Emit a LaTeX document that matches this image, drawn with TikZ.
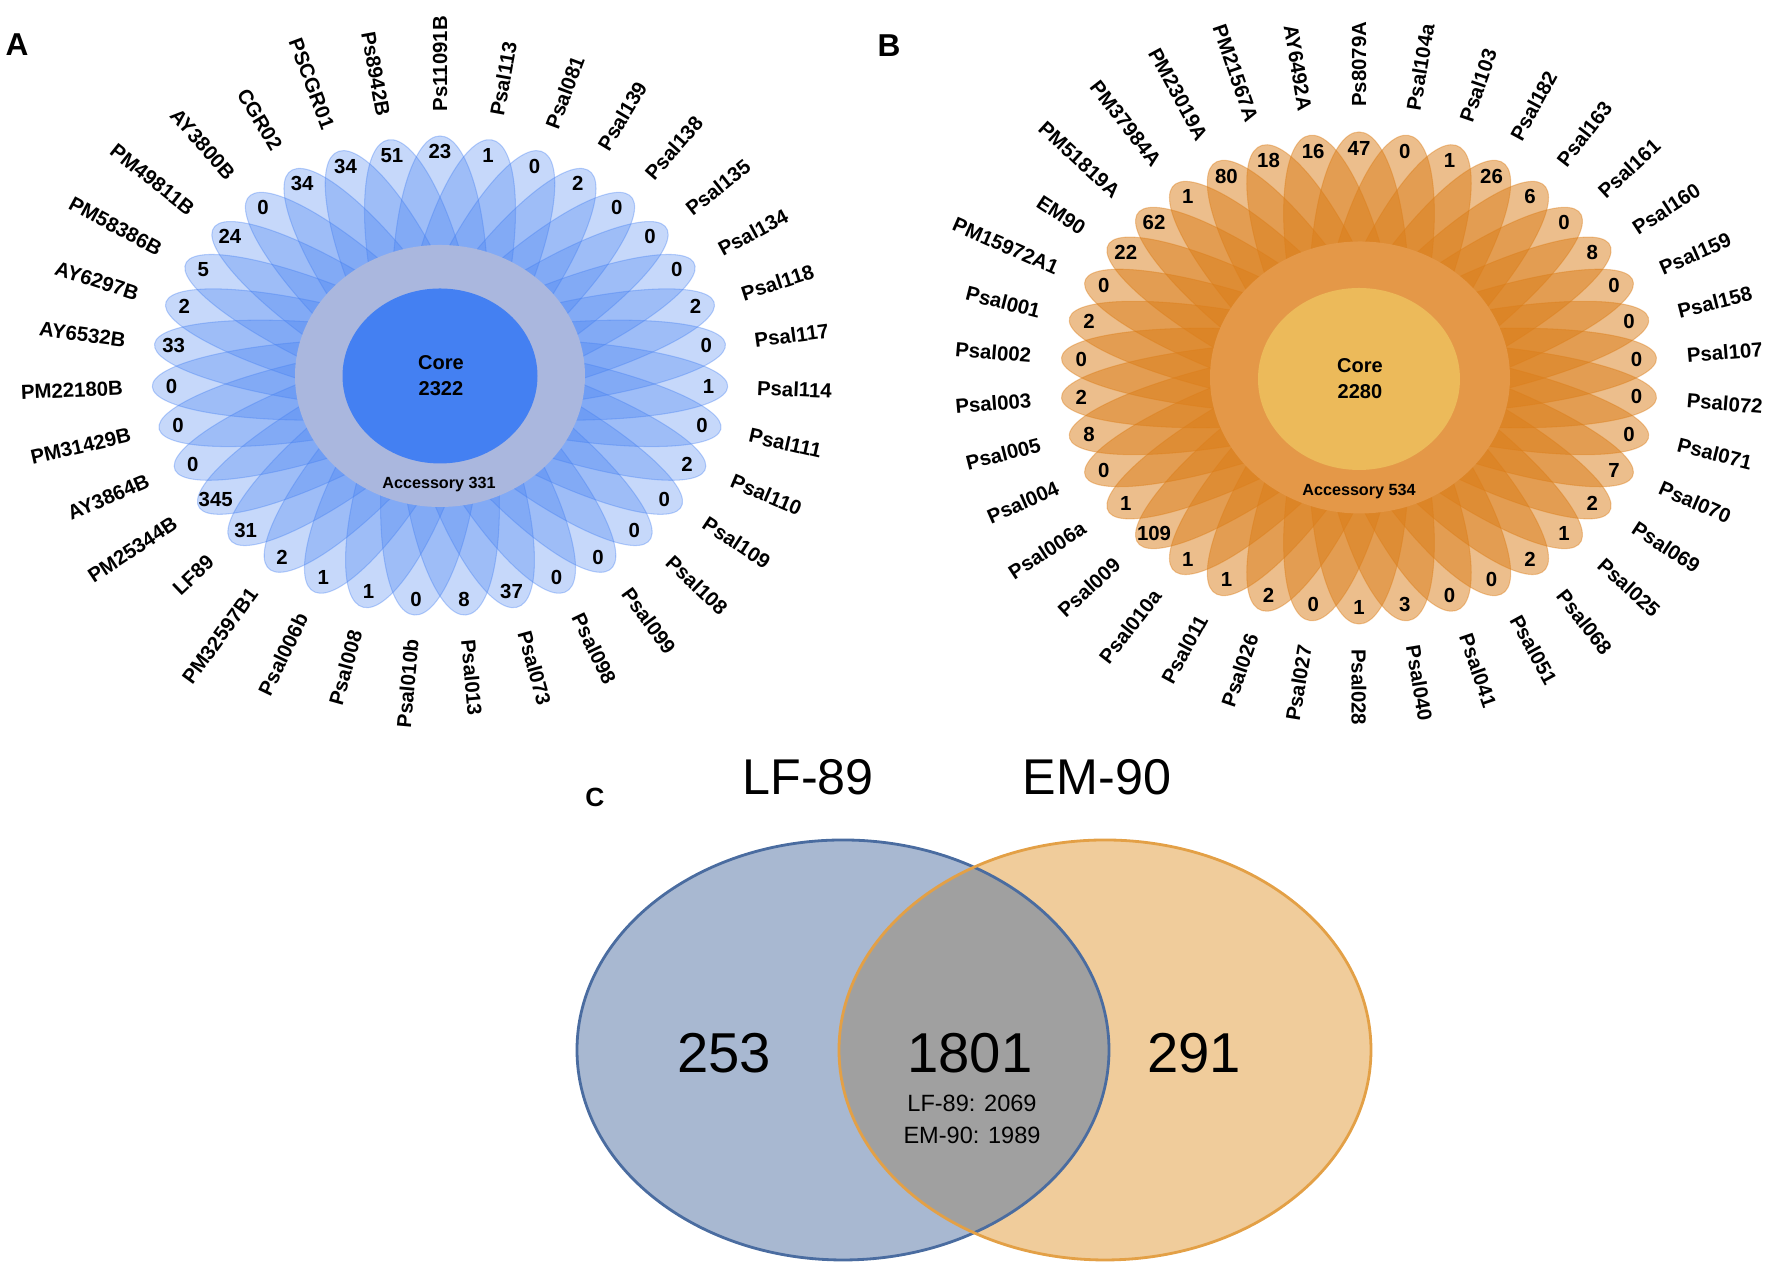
\documentclass[tikz,border=0pt]{standalone}
\usepackage{fontspec}
\setmainfont{Liberation Sans}

\definecolor{petalblue}{RGB}{66,126,240}
\definecolor{ringblue}{RGB}{170,183,222}
\definecolor{coreblue}{RGB}{68,128,242}
\definecolor{petalorange}{RGB}{218,125,25}
\definecolor{ringorange}{RGB}{228,152,72}
\definecolor{coreorange}{RGB}{236,186,90}
\definecolor{lfblue}{RGB}{168,184,209}
\definecolor{lfedge}{RGB}{74,108,160}
\definecolor{emorange}{RGB}{240,204,155}
\definecolor{emedge}{RGB}{227,160,70}
\definecolor{sharedgray}{RGB}{160,160,160}

\tikzset{
	petalA/.style={fill=petalblue, fill opacity=0.3, draw=petalblue, draw opacity=0.35, line width=0.3pt},
	petalB/.style={fill=petalorange, fill opacity=0.5, draw=petalorange, draw opacity=0.4, line width=0.3pt},
	petalnum/.style={font=\fontsize{5.8}{7}\selectfont\bfseries, inner sep=0pt},
	outlbl/.style={font=\fontsize{5.8}{7}\selectfont\bfseries, inner sep=0pt, anchor=west},
	inlbl/.style={font=\fontsize{5.8}{7}\selectfont\bfseries, inner sep=0pt, anchor=east},
	coretxt/.style={font=\fontsize{5.7}{7.4}\selectfont\bfseries, align=center, inner sep=0pt},
	acctxt/.style={font=\fontsize{4.6}{5}\selectfont\bfseries, inner sep=0pt},
	panel/.style={font=\fontsize{9}{10}\selectfont\bfseries, inner sep=0pt},
	venntitle/.style={font=\fontsize{14.3}{16}\selectfont, inner sep=0pt},
	vennbig/.style={font=\fontsize{16}{18}\selectfont, inner sep=0pt},
	vennsmall/.style={font=\fontsize{6.7}{8}\selectfont, inner sep=0pt}
}

\begin{document}
\begin{tikzpicture}[x=0.1mm, y=0.1mm]
	\useasboundingbox (0,0) rectangle (1775,1287);

	\node[panel] (panA) at (17,1242) {A};
	\node[panel] (panB) at (889,1241) {B};
	\node[panel, font=\fontsize{7.5}{9}\selectfont\bfseries] (panC) at (595,490) {C};

	\begin{scope}[shift={(440,911)}, xscale=96, yscale=80]
		\foreach \k in {0,...,34}{
			\pgfmathsetmacro{\ang}{90-\k*360/35}
			\filldraw[petalA, shift={(\ang:1)}, rotate=\ang] (0,0) ellipse (2 and 0.5);
		}
		\node[petalnum] (nA0) at (90:2.8) {23};		\node[outlbl, rotate=90] (lA0) at (90:3.3) {Ps11091B};
		\node[petalnum] (nA1) at (79.71:2.8) {1};		\node[outlbl, rotate=79.71] (lA1) at (79.71:3.3) {Psal113};
		\node[petalnum] (nA2) at (69.43:2.8) {0};		\node[outlbl, rotate=69.43] (lA2) at (69.43:3.3) {Psal081};
		\node[petalnum] (nA3) at (59.14:2.8) {2};		\node[outlbl, rotate=59.14] (lA3) at (59.14:3.3) {Psal139};
		\node[petalnum] (nA4) at (48.86:2.8) {0};		\node[outlbl, rotate=48.86] (lA4) at (48.86:3.3) {Psal138};
		\node[petalnum] (nA5) at (38.57:2.8) {0};		\node[outlbl, rotate=38.57] (lA5) at (38.57:3.3) {Psal135};
		\node[petalnum] (nA6) at (28.29:2.8) {0};		\node[outlbl, rotate=28.29] (lA6) at (28.29:3.3) {Psal134};
		\node[petalnum] (nA7) at (18:2.8) {2};		\node[outlbl, rotate=18] (lA7) at (18:3.3) {Psal118};
		\node[petalnum] (nA8) at (7.71:2.8) {0};		\node[outlbl, rotate=7.71] (lA8) at (7.71:3.3) {Psal117};
		\node[petalnum] (nA9) at (-2.57:2.8) {1};		\node[outlbl, rotate=-2.57] (lA9) at (-2.57:3.3) {Psal114};
		\node[petalnum] (nA10) at (-12.86:2.8) {0};	\node[outlbl, rotate=-12.86] (lA10) at (-12.86:3.3) {Psal111};
		\node[petalnum] (nA11) at (-23.14:2.8) {2};	\node[outlbl, rotate=-23.14] (lA11) at (-23.14:3.3) {Psal110};
		\node[petalnum] (nA12) at (-33.43:2.8) {0};	\node[outlbl, rotate=-33.43] (lA12) at (-33.43:3.3) {Psal109};
		\node[petalnum] (nA13) at (-43.71:2.8) {0};	\node[outlbl, rotate=-43.71] (lA13) at (-43.71:3.3) {Psal108};
		\node[petalnum] (nA14) at (-54:2.8) {0};		\node[outlbl, rotate=-54] (lA14) at (-54:3.3) {Psal099};
		\node[petalnum] (nA15) at (-64.29:2.8) {0};	\node[outlbl, rotate=-64.29] (lA15) at (-64.29:3.3) {Psal098};
		\node[petalnum] (nA16) at (-74.57:2.8) {37};	\node[outlbl, rotate=-74.57] (lA16) at (-74.57:3.3) {Psal073};
		\node[petalnum] (nA17) at (-84.86:2.8) {8};	\node[outlbl, rotate=-84.86] (lA17) at (-84.86:3.3) {Psal013};
		\node[petalnum] (nA18) at (-95.14:2.8) {0};	\node[inlbl, rotate=84.86] (lA18) at (-95.14:3.3) {Psal010b};
		\node[petalnum] (nA19) at (-105.43:2.8) {1};	\node[inlbl, rotate=74.57] (lA19) at (-105.43:3.3) {Psal008};
		\node[petalnum] (nA20) at (-115.71:2.8) {1};	\node[inlbl, rotate=64.29] (lA20) at (-115.71:3.3) {Psal006b};
		\node[petalnum] (nA21) at (-126:2.8) {2};		\node[inlbl, rotate=54] (lA21) at (-126:3.3) {PM32597B1};
		\node[petalnum] (nA22) at (-136.29:2.8) {31};	\node[inlbl, rotate=43.71] (lA22) at (-136.29:3.3) {LF89};
		\node[petalnum] (nA23) at (-146.57:2.8) {345};	\node[inlbl, rotate=33.43] (lA23) at (-146.57:3.3) {PM25344B};
		\node[petalnum] (nA24) at (-156.86:2.8) {0};	\node[inlbl, rotate=23.14] (lA24) at (-156.86:3.3) {AY3864B};
		\node[petalnum] (nA25) at (-167.14:2.8) {0};	\node[inlbl, rotate=12.86] (lA25) at (-167.14:3.3) {PM31429B};
		\node[petalnum] (nA26) at (-177.43:2.8) {0};	\node[inlbl, rotate=2.57] (lA26) at (-177.43:3.3) {PM22180B};
		\node[petalnum] (nA27) at (-187.71:2.8) {33};	\node[inlbl, rotate=-7.71] (lA27) at (-187.71:3.3) {AY6532B};
		\node[petalnum] (nA28) at (-198:2.8) {2};		\node[inlbl, rotate=-18] (lA28) at (-198:3.3) {AY6297B};
		\node[petalnum] (nA29) at (-208.29:2.8) {5};	\node[inlbl, rotate=-28.29] (lA29) at (-208.29:3.3) {PM58386B};
		\node[petalnum] (nA30) at (-218.57:2.8) {24};	\node[inlbl, rotate=-38.57] (lA30) at (-218.57:3.3) {PM49811B};
		\node[petalnum] (nA31) at (-228.86:2.8) {0};	\node[inlbl, rotate=-48.86] (lA31) at (-228.86:3.3) {AY3800B};
		\node[petalnum] (nA32) at (-239.14:2.8) {34};	\node[inlbl, rotate=-59.14] (lA32) at (-239.14:3.3) {CGR02};
		\node[petalnum] (nA33) at (-249.43:2.8) {34};	\node[inlbl, rotate=-69.43] (lA33) at (-249.43:3.3) {PSCGR01};
		\node[petalnum] (nA34) at (-259.71:2.8) {51};	\node[inlbl, rotate=-79.71] (lA34) at (-259.71:3.3) {Ps8942B};
	\end{scope}
	\fill[ringblue] (440,911) ellipse (145 and 131);
	\fill[coreblue] (440,911) ellipse (97.5 and 87.5);
	\node[coretxt] (coreA) at (441,911) {Core\\2322};
	\node[acctxt] (accA) at (439,802) {Accessory 331};

	\begin{scope}[shift={(1359,909)}, xscale=99.5, yscale=82]
		\foreach \k in {0,...,37}{
			\pgfmathsetmacro{\ang}{90-\k*360/38}
			\filldraw[petalB, shift={(\ang:1)}, rotate=\ang] (0,0) ellipse (2 and 0.5);
		}
		\node[petalnum] (nB0) at (90:2.8) {47};		\node[outlbl, rotate=90] (lB0) at (90:3.3) {Ps8079A};
		\node[petalnum] (nB1) at (80.53:2.8) {0};		\node[outlbl, rotate=80.53] (lB1) at (80.53:3.3) {Psal104a};
		\node[petalnum] (nB2) at (71.05:2.8) {1};		\node[outlbl, rotate=71.05] (lB2) at (71.05:3.3) {Psal103};
		\node[petalnum] (nB3) at (61.58:2.8) {26};	\node[outlbl, rotate=61.58] (lB3) at (61.58:3.3) {Psal182};
		\node[petalnum] (nB4) at (52.11:2.8) {6};		\node[outlbl, rotate=52.11] (lB4) at (52.11:3.3) {Psal163};
		\node[petalnum] (nB5) at (42.63:2.8) {0};		\node[outlbl, rotate=42.63] (lB5) at (42.63:3.3) {Psal161};
		\node[petalnum] (nB6) at (33.16:2.8) {8};		\node[outlbl, rotate=33.16] (lB6) at (33.16:3.3) {Psal160};
		\node[petalnum] (nB7) at (23.68:2.8) {0};		\node[outlbl, rotate=23.68] (lB7) at (23.68:3.3) {Psal159};
		\node[petalnum] (nB8) at (14.21:2.8) {0};		\node[outlbl, rotate=14.21] (lB8) at (14.21:3.3) {Psal158};
		\node[petalnum] (nB9) at (4.74:2.8) {0};		\node[outlbl, rotate=4.74] (lB9) at (4.74:3.3) {Psal107};
		\node[petalnum] (nB10) at (-4.74:2.8) {0};	\node[outlbl, rotate=-4.74] (lB10) at (-4.74:3.3) {Psal072};
		\node[petalnum] (nB11) at (-14.21:2.8) {0};	\node[outlbl, rotate=-14.21] (lB11) at (-14.21:3.3) {Psal071};
		\node[petalnum] (nB12) at (-23.68:2.8) {7};	\node[outlbl, rotate=-23.68] (lB12) at (-23.68:3.3) {Psal070};
		\node[petalnum] (nB13) at (-33.16:2.8) {2};	\node[outlbl, rotate=-33.16] (lB13) at (-33.16:3.3) {Psal069};
		\node[petalnum] (nB14) at (-42.63:2.8) {1};	\node[outlbl, rotate=-42.63] (lB14) at (-42.63:3.3) {Psal025};
		\node[petalnum] (nB15) at (-52.11:2.8) {2};	\node[outlbl, rotate=-52.11] (lB15) at (-52.11:3.3) {Psal068};
		\node[petalnum] (nB16) at (-61.58:2.8) {0};	\node[outlbl, rotate=-61.58] (lB16) at (-61.58:3.3) {Psal051};
		\node[petalnum] (nB17) at (-71.05:2.8) {0};	\node[outlbl, rotate=-71.05] (lB17) at (-71.05:3.3) {Psal041};
		\node[petalnum] (nB18) at (-80.53:2.8) {3};	\node[outlbl, rotate=-80.53] (lB18) at (-80.53:3.3) {Psal040};
		\node[petalnum] (nB19) at (-90:2.8) {1};		\node[outlbl, rotate=-90] (lB19) at (-90:3.3) {Psal028};
		\node[petalnum] (nB20) at (-99.47:2.8) {0};	\node[inlbl, rotate=80.53] (lB20) at (-99.47:3.3) {Psal027};
		\node[petalnum] (nB21) at (-108.95:2.8) {2};	\node[inlbl, rotate=71.05] (lB21) at (-108.95:3.3) {Psal026};
		\node[petalnum] (nB22) at (-118.42:2.8) {1};	\node[inlbl, rotate=61.58] (lB22) at (-118.42:3.3) {Psal011};
		\node[petalnum] (nB23) at (-127.89:2.8) {1};	\node[inlbl, rotate=52.11] (lB23) at (-127.89:3.3) {Psal010a};
		\node[petalnum] (nB24) at (-137.37:2.8) {109};	\node[inlbl, rotate=42.63] (lB24) at (-137.37:3.3) {Psal009};
		\node[petalnum] (nB25) at (-146.84:2.8) {1};	\node[inlbl, rotate=33.16] (lB25) at (-146.84:3.3) {Psal006a};
		\node[petalnum] (nB26) at (-156.32:2.8) {0};	\node[inlbl, rotate=23.68] (lB26) at (-156.32:3.3) {Psal004};
		\node[petalnum] (nB27) at (-165.79:2.8) {8};	\node[inlbl, rotate=14.21] (lB27) at (-165.79:3.3) {Psal005};
		\node[petalnum] (nB28) at (-175.26:2.8) {2};	\node[inlbl, rotate=4.74] (lB28) at (-175.26:3.3) {Psal003};
		\node[petalnum] (nB29) at (-184.74:2.8) {0};	\node[inlbl, rotate=-4.74] (lB29) at (-184.74:3.3) {Psal002};
		\node[petalnum] (nB30) at (-194.21:2.8) {2};	\node[inlbl, rotate=-14.21] (lB30) at (-194.21:3.3) {Psal001};
		\node[petalnum] (nB31) at (-203.68:2.8) {0};	\node[inlbl, rotate=-23.68] (lB31) at (-203.68:3.3) {PM15972A1};
		\node[petalnum] (nB32) at (-213.16:2.8) {22};	\node[inlbl, rotate=-33.16] (lB32) at (-213.16:3.3) {EM90};
		\node[petalnum] (nB33) at (-222.63:2.8) {62};	\node[inlbl, rotate=-42.63] (lB33) at (-222.63:3.3) {PM51819A};
		\node[petalnum] (nB34) at (-232.11:2.8) {1};	\node[inlbl, rotate=-52.11] (lB34) at (-232.11:3.3) {PM37984A};
		\node[petalnum] (nB35) at (-241.58:2.8) {80};	\node[inlbl, rotate=-61.58] (lB35) at (-241.58:3.3) {PM23019A};
		\node[petalnum] (nB36) at (-251.05:2.8) {18};	\node[inlbl, rotate=-71.05] (lB36) at (-251.05:3.3) {PM21567A};
		\node[petalnum] (nB37) at (-260.53:2.8) {16};	\node[inlbl, rotate=-80.53] (lB37) at (-260.53:3.3) {AY6492A};
	\end{scope}
	\fill[ringorange] (1360,909.5) ellipse (150 and 136);
	\fill[coreorange] (1359,908) ellipse (101 and 91);
	\node[coretxt] (coreB) at (1360,908.5) {Core\\2280};
	\node[acctxt] (accB) at (1359,795) {Accessory 534};

	\fill[lfblue] (843,237) ellipse (266 and 210);
	\fill[emorange] (1105,237) ellipse (266 and 210);
	\begin{scope}
		\clip (843,237) ellipse (266 and 210);
		\fill[sharedgray] (1105,237) ellipse (266 and 210);
	\end{scope}
	\draw[lfedge, line width=0.8pt] (843,237) ellipse (266 and 210);
	\draw[emedge, line width=0.8pt] (1105,237) ellipse (266 and 210);

	\node[venntitle] (tLF) at (808,510) {LF-89};
	\node[venntitle] (tEM) at (1097,510) {EM-90};
	\node[vennbig] (onlyLF) at (724,234) {253};
	\node[vennbig] (shared) at (970,234) {1801};
	\node[vennbig] (onlyEM) at (1194,234) {291};
	\node[vennsmall] (sumLF) at (972,184) {LF-89: 2069};
	\node[vennsmall] (sumEM) at (972,152) {EM-90: 1989};
\end{tikzpicture}
\end{document}
